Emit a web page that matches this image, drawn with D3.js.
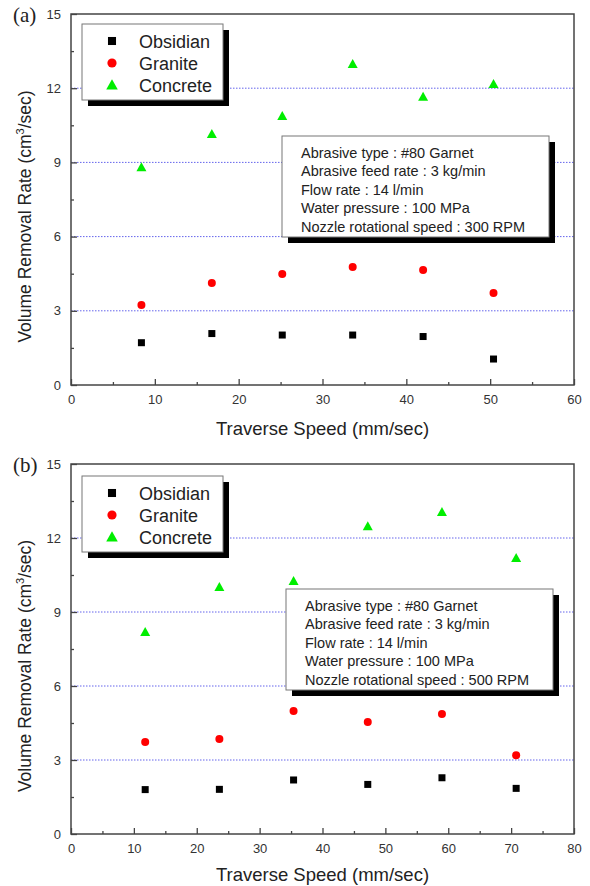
<!DOCTYPE html>
<html>
<head>
<meta charset="utf-8">
<script src="https://cdn.jsdelivr.net/npm/d3@7"></script>
<style>
  body { margin: 0; background: #fff; }
  svg { display: block; font-family: "Liberation Sans", Arial, sans-serif; }
</style>
</head>
<body>
<svg id="chart" width="590" height="886"></svg>
<script>
var chartWidth = 590;
var chartHeight = 886;

/********
 * Data *
 ********/

var seriesNames = ["Obsidian", "Granite", "Concrete"];
var seriesColors = ["#000000", "#ff0000", "#00ee00"];
var yTicks = [0, 3, 6, 9, 12, 15];
var gridValues = [3, 6, 9, 12];

// panel (a): 300 RPM
var speedA = [8.4, 16.8, 25.2, 33.6, 42.0, 50.4];
var obsidianA = [1.71, 2.08, 2.02, 2.02, 1.96, 1.05];
var graniteA = [3.23, 4.12, 4.49, 4.77, 4.65, 3.72];
var concreteA = [8.8, 10.15, 10.88, 12.98, 11.65, 12.17];
var xTicksA = [0, 10, 20, 30, 40, 50, 60];

// panel (b): 500 RPM
var speedB = [11.8, 23.6, 35.4, 47.2, 59.0, 70.8];
var obsidianB = [1.80, 1.81, 2.19, 2.01, 2.28, 1.85];
var graniteB = [3.73, 3.85, 4.99, 4.54, 4.86, 3.19];
var concreteB = [8.19, 10.01, 10.26, 12.48, 13.05, 11.19];
var xTicksB = [0, 10, 20, 30, 40, 50, 60, 70, 80];

var infoA = ["Abrasive type : #80 Garnet", "Abrasive feed rate : 3 kg/min", "Flow rate : 14 l/min",
             "Water pressure : 100 MPa", "Nozzle rotational speed : 300 RPM"];
var infoB = ["Abrasive type : #80 Garnet", "Abrasive feed rate : 3 kg/min", "Flow rate : 14 l/min",
             "Water pressure : 100 MPa", "Nozzle rotational speed : 500 RPM"];

var svg = d3.select("#chart");

/**************
 * Symbols    *
 **************/

function drawMarker(g, kind, cx, cy, big) {
    var s = big ? 1.15 : 1;
    if (kind === 0) {
        g.append("rect")
            .attr("x", cx - 3.5 * s).attr("y", cy - 3.5 * s)
            .attr("width", 7 * s).attr("height", 7 * s)
            .attr("fill", seriesColors[0]);
    } else if (kind === 1) {
        g.append("circle")
            .attr("cx", cx).attr("cy", cy).attr("r", 4 * s)
            .attr("fill", seriesColors[1]);
    } else {
        g.append("path")
            .attr("d", "M" + cx + "," + (cy - 5 * s) + "L" + (cx + 5 * s) + "," + (cy + 4 * s) +
                  "L" + (cx - 5 * s) + "," + (cy + 4 * s) + "Z")
            .attr("fill", seriesColors[2]);
    }
}

/**************
 * Make Panel *
 **************/

function makePanel(opt) {
    var g = svg.append("g");
    var left = 71, right = 574;

    var x = d3.scaleLinear().domain([0, opt.xMax]).range([left, right]);
    var y = d3.scaleLinear().domain([0, 15]).range([opt.bottom, opt.top]);

    // grid lines
    g.selectAll(".grid")
        .data(gridValues)
        .enter().append("line")
        .attr("x1", left).attr("x2", right)
        .attr("y1", function(d) { return y(d); })
        .attr("y2", function(d) { return y(d); })
        .attr("stroke", "#6464ec")
        .attr("stroke-width", 1)
        .attr("stroke-dasharray", "1.5,1.5");

    // axes, ticks inward
    var xAxis = d3.axisBottom(x).tickValues(opt.xTicks).tickSize(-6).tickPadding(10);
    var xMinor = d3.axisBottom(x).tickValues(d3.range(5, opt.xMax, 10)).tickSize(-3).tickFormat("");
    var yAxis = d3.axisLeft(y).tickValues(yTicks).tickSize(-6).tickPadding(10);
    var yMinor = d3.axisLeft(y).tickValues(d3.range(1.5, 15, 3)).tickSize(-3).tickFormat("");

    [xAxis, xMinor].forEach(function(ax) {
        g.append("g").attr("class", "axis")
            .attr("transform", "translate(0," + opt.bottom + ")")
            .call(ax);
    });
    [yAxis, yMinor].forEach(function(ax) {
        g.append("g").attr("class", "axis")
            .attr("transform", "translate(" + left + ",0)")
            .call(ax);
    });

    g.selectAll(".axis .domain").remove();
    g.selectAll(".axis line").attr("stroke", "#444").attr("stroke-width", 1.3);
    g.selectAll(".axis text")
        .attr("fill", "#333")
        .attr("font-size", "13px")
        .attr("font-family", "'Liberation Sans', Arial, sans-serif");

    // frame
    g.append("rect")
        .attr("x", left).attr("y", opt.top)
        .attr("width", right - left).attr("height", opt.bottom - opt.top)
        .attr("fill", "none")
        .attr("stroke", "#444")
        .attr("stroke-width", 1.5);

    // points
    var series = [opt.obsidian, opt.granite, opt.concrete];
    series.forEach(function(vals, k) {
        vals.forEach(function(v, i) {
            drawMarker(g, k, x(opt.speed[i]), y(v), false);
        });
    });

    // legend box with shadow
    var lg = g.append("g").attr("transform", "translate(82," + opt.legendY + ")");
    lg.append("rect").attr("x", 6).attr("y", 6).attr("width", 141).attr("height", 76).attr("fill", "#000");
    lg.append("rect").attr("width", 141).attr("height", 76)
        .attr("fill", "#fff").attr("stroke", "#777").attr("stroke-width", 1);
    seriesNames.forEach(function(name, k) {
        var cy = 17 + k * 22;
        drawMarker(lg, k, 30, cy, true);
        lg.append("text")
            .attr("x", 57).attr("y", cy + 6.5)
            .attr("font-size", "18px")
            .attr("fill", "#222")
            .text(name);
    });

    // info box with shadow
    var ig = g.append("g").attr("transform", "translate(" + opt.infoX + "," + opt.infoY + ")");
    ig.append("rect").attr("x", 6).attr("y", 6).attr("width", 267).attr("height", 101).attr("fill", "#000");
    ig.append("rect").attr("width", 267).attr("height", 101)
        .attr("fill", "#fff").attr("stroke", "#777").attr("stroke-width", 1);
    opt.info.forEach(function(t, i) {
        ig.append("text")
            .attr("x", 19).attr("y", 22 + i * 18.4)
            .attr("font-size", "14.5px")
            .attr("fill", "#222")
            .text(t);
    });

    // axis labels
    g.append("text")
        .attr("text-anchor", "middle")
        .attr("x", (left + right) / 2)
        .attr("y", opt.bottom + opt.xLabelGap)
        .attr("font-size", "18.5px")
        .attr("fill", "#222")
        .text("Traverse Speed (mm/sec)");

    var yl = g.append("text")
        .attr("text-anchor", "middle")
        .attr("transform", "translate(31," + ((opt.top + opt.bottom) / 2 + 17) + ") rotate(-90)")
        .attr("font-size", "17.5px")
        .attr("fill", "#222");
    yl.append("tspan").text("Volume Removal Rate (cm");
    yl.append("tspan").attr("dy", -7).attr("font-size", "11px").text("3");
    yl.append("tspan").attr("dy", 7).text("/sec)");

    // panel tag
    g.append("text")
        .attr("x", 13).attr("y", opt.top + 8)
        .attr("font-family", "'Liberation Serif', 'Times New Roman', serif")
        .attr("font-size", "21px")
        .attr("fill", "#222")
        .text(opt.tag);
}

makePanel({
    tag: "(a)", top: 14, bottom: 385, xMax: 60, xTicks: xTicksA, xLabelGap: 50,
    speed: speedA, obsidian: obsidianA, granite: graniteA, concrete: concreteA,
    legendY: 24, infoX: 282, infoY: 136, info: infoA
});

makePanel({
    tag: "(b)", top: 464, bottom: 834, xMax: 80, xTicks: xTicksB, xLabelGap: 47,
    speed: speedB, obsidian: obsidianB, granite: graniteB, concrete: concreteB,
    legendY: 476, infoX: 286, infoY: 589, info: infoB
});
</script>
</body>
</html>
